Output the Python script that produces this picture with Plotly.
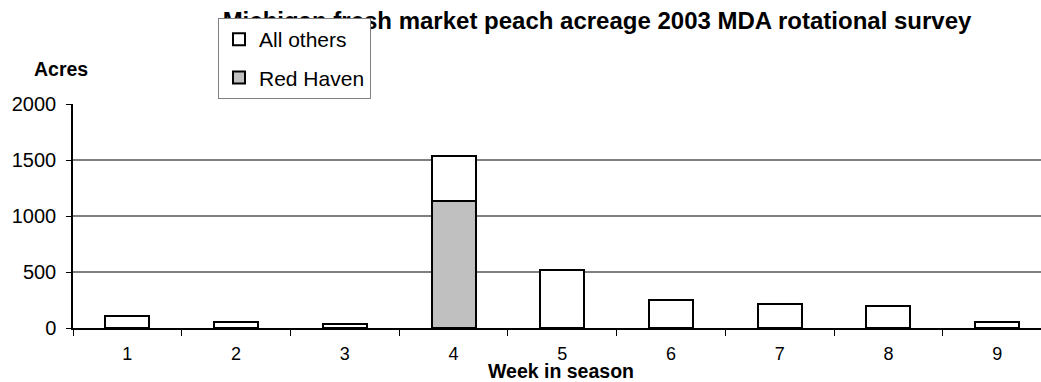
import plotly.graph_objects as go

# Weekly fresh-market peach acreage (acres)
weeks = ["1", "2", "3", "4", "5", "6", "7", "8", "9"]
red_haven = [None, None, None, 1133, None, None, None, None, None]
all_others = [110, 55, 35, 405, 516, 252, 216, 198, 55]
y_ticks = [0, 500, 1000, 1500, 2000]
title_text = "<b>Michigan fresh market peach acreage 2003 MDA rotational survey</b>"

FONT = "Arial, Liberation Sans, sans-serif"
W, H = 1041, 382
ML, MB = 73, 54
PLOT_TOP = 104                     # pixel row of the 2000 gridline
paper_w = W - ML
paper_h = H - MB


def px_x(px):
    return (px - ML) / paper_w


def px_y(py):
    return (paper_h - py) / paper_h


fig = go.Figure()
fig.add_bar(
    x=weeks, y=red_haven, name="Red Haven", legendgroup="rh", legendrank=2,
    marker=dict(color="#C0C0C0", line=dict(color="black", width=2)),
)
fig.add_bar(
    x=weeks, y=all_others, name="All others", legendgroup="ao", legendrank=1,
    marker=dict(color="white", line=dict(color="black", width=2)),
)

# Chart title lives in its own pixel-scaled overlay so the legend box sits above it
fig.add_scatter(
    x=[597], y=[23], mode="text", text=[title_text],
    textposition="middle center", cliponaxis=False,
    textfont=dict(family=FONT, size=24, color="black"),
    xaxis="x2", yaxis="y2", showlegend=False, hoverinfo="skip",
)

fig.update_layout(
    width=W, height=H,
    margin=dict(l=ML, r=0, t=0, b=MB, pad=0, autoexpand=False),
    paper_bgcolor="white", plot_bgcolor="rgba(0,0,0,0)",
    barmode="stack", bargap=0.595,
    font=dict(family=FONT, size=17, color="black"),
    showlegend=True,
    legend=dict(
        x=px_x(218), y=px_y(18), xanchor="left", yanchor="top",
        bgcolor="white", bordercolor="#808080", borderwidth=1,
        traceorder="grouped", tracegroupgap=8,
        font=dict(family=FONT, size=21, color="black"),
    ),
    xaxis=dict(
        type="category", range=[-0.5, 8.403],
        tickson="boundaries", ticks="outside", ticklen=6, tickwidth=1,
        tickcolor="black", showline=True, linecolor="black", linewidth=1.5,
        showgrid=False, zeroline=False,
        tickfont=dict(family=FONT, size=18, color="black"),
        ticklabelstandoff=9,
    ),
    yaxis=dict(
        domain=[0, (paper_h - PLOT_TOP) / paper_h],
        range=[0, 2000], tickvals=y_ticks, ticks="outside", ticklen=5,
        tickwidth=1, tickcolor="black", showline=True, linecolor="black",
        linewidth=1.5, showgrid=True, gridcolor="#808080", gridwidth=1.5,
        zeroline=False, ticklabelstandoff=6,
        tickfont=dict(family=FONT, size=20, color="black"),
    ),
    xaxis2=dict(domain=[0, 1], range=[ML, W], anchor="y2", visible=False,
                fixedrange=True),
    yaxis2=dict(domain=[0, 1], range=[paper_h, 0], anchor="x2", visible=False,
                fixedrange=True),
    annotations=[
        dict(text="<b>Acres</b>", x=px_x(61), y=px_y(69), xref="paper", yref="paper",
             xanchor="center", yanchor="middle", showarrow=False,
             font=dict(family=FONT, size=19.5, color="black")),
        dict(text="<b>Week in season</b>", x=px_x(561), y=px_y(370.5), xref="paper",
             yref="paper", xanchor="center", yanchor="middle", showarrow=False,
             font=dict(family=FONT, size=19.5, color="black")),
    ],
)

fig.write_html("out.html")
